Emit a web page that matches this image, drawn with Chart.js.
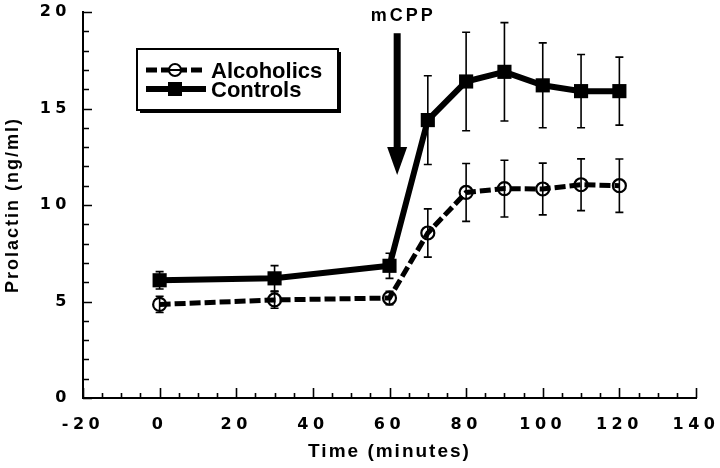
<!DOCTYPE html>
<html>
<head>
<meta charset="utf-8">
<script src="https://cdn.jsdelivr.net/npm/chart.js@4.4.0/dist/chart.umd.min.js"></script>
<style>
  html, body { margin: 0; padding: 0; background: #fff; }
  canvas { display: block; }
</style>
</head>
<body>
<canvas id="myChart" width="720" height="468"></canvas>
<script>
// values
const times = [0, 30, 60, 70, 80, 90, 100, 110, 120];
const alcoholics = [4.85, 5.08, 5.18, 8.55, 10.65, 10.85, 10.83, 11.05, 11.0];
const alcoholicsSE = [0.42, 0.43, 0.35, 1.25, 1.5, 1.47, 1.34, 1.34, 1.38];
const controls = [6.1, 6.2, 6.85, 14.4, 16.4, 16.9, 16.2, 15.9, 15.9];
const controlsSE = [0.45, 0.66, 0.65, 2.3, 2.55, 2.55, 2.2, 1.9, 1.76];
const xTicks = [-20, 0, 20, 40, 60, 80, 100, 120, 140];
const yTicks = [0, 5, 10, 15, 20];
// mCPP injection arrow (time, from, to)
const arrowTime = 62;
const arrowFrom = 18.9;
const arrowTo = 11.55;
const arrowLabel = 'mCPP';

var black = '#000';

const toPoints = (vals) => vals.map((v, i) => ({ x: times[i], y: v }));

const errorBars = {
  id: 'errorBars',
  beforeDatasetsDraw(chart) {
    const { ctx, scales: { x, y } } = chart;
    ctx.save();
    ctx.strokeStyle = black;
    ctx.lineWidth = 1.6;
    chart.data.datasets.forEach(ds => {
      ds.data.forEach((p, i) => {
        const px = x.getPixelForValue(p.x);
        const top = y.getPixelForValue(p.y + ds.se[i]);
        const bot = y.getPixelForValue(p.y - ds.se[i]);
        ctx.beginPath();
        ctx.moveTo(px, top); ctx.lineTo(px, bot);
        ctx.moveTo(px - 4, top); ctx.lineTo(px + 4, top);
        ctx.moveTo(px - 4, bot); ctx.lineTo(px + 4, bot);
        ctx.stroke();
      });
    });
    ctx.restore();
  },
  afterDatasetsDraw(chart) {
    // tick labels are drawn after this (ticks.z = 1), give them the spaced look
    chart.ctx.letterSpacing = '4.5px';
  }
};

const axisDecor = {
  id: 'axisDecor',
  beforeDraw(chart) {
    chart.ctx.letterSpacing = '2px';
  },
  afterDraw(chart) {
    const { ctx, chartArea: { left, bottom }, scales: { x, y } } = chart;
    ctx.save();
    ctx.letterSpacing = '0px';
    ctx.strokeStyle = black;
    ctx.lineWidth = 1.6;
    // inward ticks
    ctx.beginPath();
    for (let v = y.min; v <= y.max; v += 1) {
      const py = Math.round(y.getPixelForValue(v)) + 0.5;
      const len = v % 5 === 0 ? 9 : 6;
      ctx.moveTo(left, py); ctx.lineTo(left + len, py);
    }
    for (let v = x.min; v <= x.max; v += 5) {
      const px = Math.round(x.getPixelForValue(v)) + 0.5;
      const len = v % 20 === 0 ? 10 : 5;
      ctx.moveTo(px, bottom); ctx.lineTo(px, bottom - len);
    }
    ctx.stroke();

    // arrow
    const ax = x.getPixelForValue(arrowTime);
    const ay0 = y.getPixelForValue(arrowFrom);
    const ay1 = y.getPixelForValue(arrowTo);
    ctx.fillStyle = black;
    ctx.fillRect(ax - 3.5, ay0, 7, ay1 - ay0 - 26);
    ctx.beginPath();
    ctx.moveTo(ax - 10, ay1 - 28);
    ctx.lineTo(ax + 10, ay1 - 28);
    ctx.lineTo(ax, ay1);
    ctx.closePath();
    ctx.fill();
    ctx.font = 'bold 18px "Liberation Sans", Arial, sans-serif';
    ctx.letterSpacing = '3px';
    ctx.textAlign = 'center';
    ctx.textBaseline = 'alphabetic';
    ctx.fillText(arrowLabel, ax + 6, ay0 - 12);

    // legend box with drop shadow
    ctx.letterSpacing = '0px';
    const bx = 137, by = 49, bw = 201, bh = 61;
    ctx.fillRect(bx + 3, by + 3, bw, bh);
    ctx.fillStyle = '#fff';
    ctx.fillRect(bx, by, bw, bh);
    ctx.lineWidth = 2;
    ctx.strokeRect(bx, by, bw, bh);
    ctx.font = 'bold 22px "Liberation Sans", Arial, sans-serif';
    ctx.textAlign = 'left';
    chart.data.datasets.forEach((ds, i) => {
      const ly = 70 + i * 19;
      ctx.save();
      ctx.strokeStyle = black;
      ctx.lineWidth = ds.borderWidth;
      ctx.setLineDash(ds.borderDash || []);
      ctx.beginPath();
      ctx.moveTo(146, ly); ctx.lineTo(206, ly);
      ctx.stroke();
      ctx.restore();
      ctx.fillStyle = black;
      if (ds.pointStyle === 'rect') {
        ctx.fillRect(168, ly - 7, 14, 14);
      } else {
        ctx.save();
        ctx.fillStyle = '#fff';
        ctx.beginPath();
        ctx.arc(175, ly, 6, 0, Math.PI * 2);
        ctx.fill();
        ctx.lineWidth = 2;
        ctx.stroke();
        ctx.beginPath();
        ctx.moveTo(169, ly); ctx.lineTo(181, ly);
        ctx.stroke();
        ctx.restore();
      }
      ctx.fillText(ds.label, 211, ly + 8);
    });
    ctx.restore();
  }
};

const data = {
  datasets: [
    {
      label: 'Alcoholics',
      data: toPoints(alcoholics),
      se: alcoholicsSE,
      borderColor: black,
      borderWidth: 5,
      borderDash: [11, 4],
      pointStyle: 'circle',
      pointRadius: 6.5,
      pointBorderWidth: 2.2,
      pointBorderColor: black,
      pointBackgroundColor: 'rgba(0,0,0,0)',
      tension: 0,
      fill: false
    },
    {
      label: 'Controls',
      data: toPoints(controls),
      se: controlsSE,
      borderColor: black,
      borderWidth: 6,
      pointStyle: 'rect',
      pointRadius: 10,
      pointBorderWidth: 0,
      pointBackgroundColor: black,
      tension: 0,
      fill: false
    }
  ]
};

const tickFont = { family: '"DejaVu Sans", sans-serif', size: 16, weight: 'bold' };
const titleFont = { family: '"Liberation Sans", Arial, sans-serif', size: 19, weight: 'bold' };

const config = {
  type: 'line',
  data: data,
  plugins: [errorBars, axisDecor],
  options: {
    responsive: false,
    animation: false,
    layout: { padding: { top: 12, right: 24, left: 0, bottom: 0 } },
    plugins: {
      legend: { display: false },
      tooltip: { enabled: false }
    },
    scales: {
      x: {
        type: 'linear',
        min: -20,
        max: 140,
        afterBuildTicks(scale) { scale.ticks = xTicks.map(v => ({ value: v })); },
        afterFit(scale) { scale.height = 70; scale.paddingLeft = 0; scale.paddingRight = 10; },
        grid: { drawOnChartArea: false, drawTicks: false },
        border: { display: true, color: black, width: 2 },
        ticks: { z: 1, color: black, font: tickFont, padding: 17, maxRotation: 0 },
        title: { display: true, text: 'Time (minutes)', color: black, font: titleFont, padding: 5 }
      },
      y: {
        type: 'linear',
        min: 0,
        max: 20,
        afterBuildTicks(scale) { scale.ticks = yTicks.map(v => ({ value: v })); },
        afterFit(scale) { scale.width = 83; scale.paddingTop = 10; scale.paddingBottom = 0; },
        grid: { drawOnChartArea: false, drawTicks: false },
        border: { display: true, color: black, width: 2 },
        ticks: { z: 1, color: black, font: tickFont, padding: 12 },
        title: { display: true, text: 'Prolactin (ng/ml)', color: black, font: { ...titleFont, size: 18 }, padding: 2 }
      }
    }
  }
};

var myChart = new Chart(document.getElementById('myChart'), config);
</script>
</body>
</html>
